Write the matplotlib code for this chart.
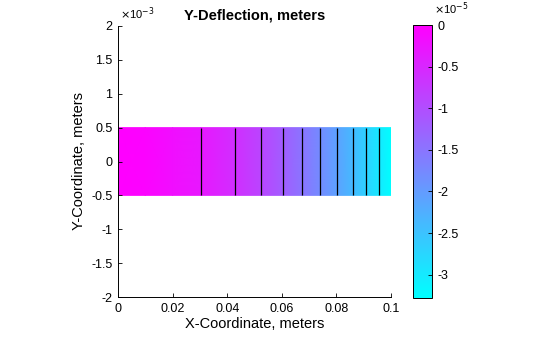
import numpy as np
import matplotlib
matplotlib.use("Agg")
import matplotlib.pyplot as plt

plt.rcParams['font.family'] = ['Liberation Sans', 'DejaVu Sans']

# Field samples along the beam (deflection is uniform through thickness)
x_samples = [0.0, 0.01, 0.02, 0.0304, 0.0429, 0.0524, 0.0604, 0.0674, 0.0740,
             0.0802, 0.0861, 0.0908, 0.0956, 0.1]
defl_samples = [0.0, -0.05e-5, -0.18e-5, -0.298e-5, -0.596e-5, -0.895e-5,
                -1.193e-5, -1.491e-5, -1.789e-5, -2.087e-5, -2.385e-5,
                -2.684e-5, -2.982e-5, -3.28e-5]
y_edges = [-0.5e-3, 0.5e-3]
contour_levels = [-2.982e-5, -2.684e-5, -2.385e-5, -2.087e-5, -1.789e-5,
                  -1.491e-5, -1.193e-5, -0.895e-5, -0.596e-5, -0.298e-5]

xticks = [0, 0.02, 0.04, 0.06, 0.08, 0.1]
xtick_labels = ['0', '0.02', '0.04', '0.06', '0.08', '0.1']
yticks = [-2e-3, -1.5e-3, -1e-3, -0.5e-3, 0, 0.5e-3, 1e-3, 1.5e-3, 2e-3]
ytick_labels = ['-2', '-1.5', '-1', '-0.5', '0', '0.5', '1', '1.5', '2']
cticks = [0, -0.5e-5, -1e-5, -1.5e-5, -2e-5, -2.5e-5, -3e-5]
ctick_labels = ['0', '-0.5', '-1', '-1.5', '-2', '-2.5', '-3']
cmin, cmax = -3.28e-5, 0.0

W, H = 560, 337
fig = plt.figure(figsize=(W / 100, H / 100), dpi=100)
ax = fig.add_axes([118 / W, (H - 297) / H, 273 / W, 271 / H])

X, Y = np.meshgrid(np.array(x_samples), np.array(y_edges))
Z = np.tile(np.array(defl_samples), (len(y_edges), 1))
ax.pcolormesh(X, Y, Z, shading='gouraud', cmap='cool', vmin=cmin, vmax=cmax)
ax.contour(X, Y, Z, levels=contour_levels, colors='black', linewidths=0.9,
           linestyles='solid')

ax.set_xlim(0, 0.1)
ax.set_ylim(-2e-3, 2e-3)
ax.set_xticks(xticks)
ax.set_xticklabels(xtick_labels)
ax.set_yticks(yticks)
ax.set_yticklabels(ytick_labels)
ax.tick_params(direction='in', length=3, width=0.6, labelsize=9, pad=4)
for s in ['top', 'right']:
    ax.spines[s].set_visible(False)
for s in ['left', 'bottom']:
    ax.spines[s].set_linewidth(0.7)

ax.set_xlabel('X-Coordinate, meters', fontsize=10.5, labelpad=2)
ax.set_ylabel('Y-Coordinate, meters', fontsize=10.5, labelpad=4)
ax.set_title('Y-Deflection, meters', fontsize=10.5, fontweight='bold', pad=5)
fig.text(120 / W, 1 - 14 / H, r'$\times$10$^{-3}$', fontsize=8, ha='left', va='center')

cax = fig.add_axes([413 / W, (H - 298) / H, 19 / W, 273 / H])
sm = matplotlib.cm.ScalarMappable(norm=matplotlib.colors.Normalize(cmin, cmax), cmap='cool')
cb = fig.colorbar(sm, cax=cax)
cb.set_ticks(cticks)
cb.set_ticklabels(ctick_labels)
cax.tick_params(direction='in', length=3, width=0.6, labelsize=9, pad=4)
cb.outline.set_linewidth(0.7)
fig.text(434 / W, 1 - 9 / H, r'$\times$10$^{-5}$', fontsize=8, ha='left', va='center')

fig.savefig('out.png', dpi=100)
